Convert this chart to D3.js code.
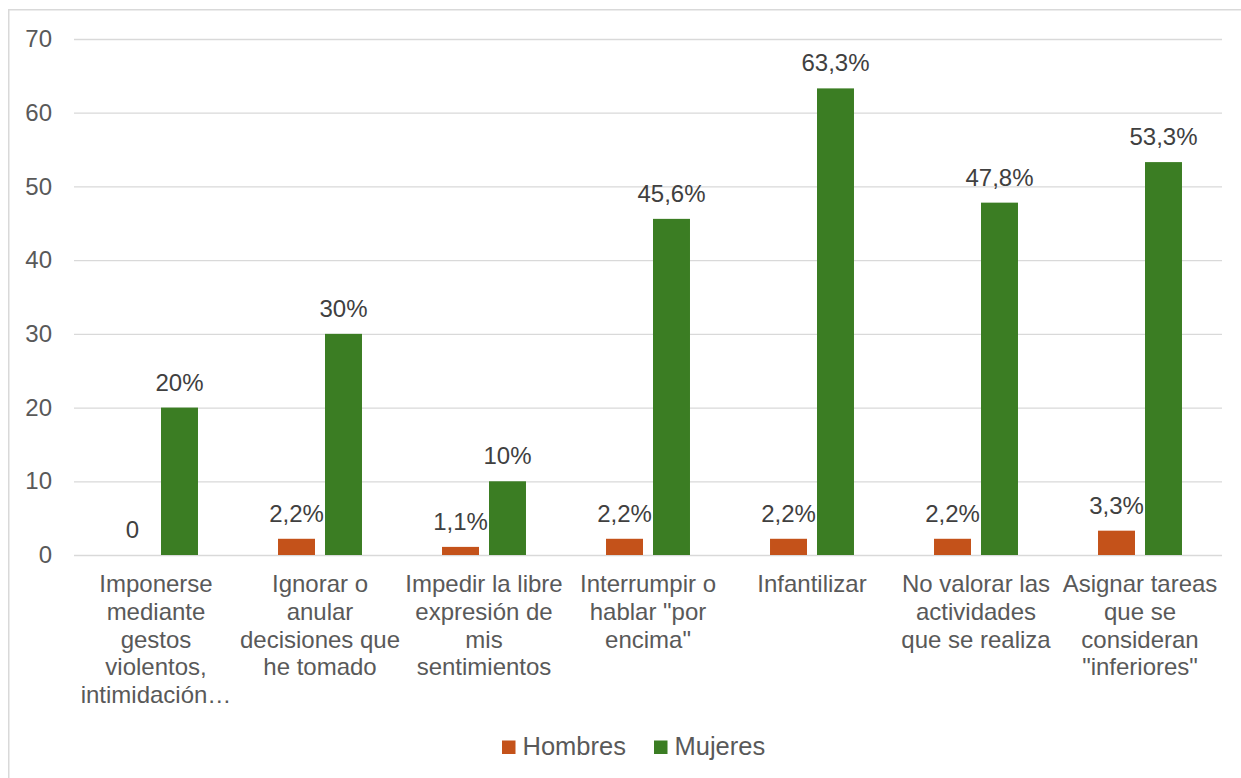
<!DOCTYPE html>
<html>
<head>
<meta charset="utf-8">
<script src="https://cdn.jsdelivr.net/npm/d3@7"></script>
<style>
  html, body { margin: 0; padding: 0; background: #fff; }
  svg { display: block; font-family: "Liberation Sans", Arial, sans-serif; }
</style>
</head>
<body>
<svg id="chart" width="1241" height="778"></svg>
<script>
const categories = [
  "Imponerse mediante gestos violentos, intimidación…",
  "Ignorar o anular decisiones que he tomado",
  "Impedir la libre expresión de mis sentimientos",
  "Interrumpir o hablar \"por encima\"",
  "Infantilizar",
  "No valorar las actividades que se realiza",
  "Asignar tareas que se consideran \"inferiores\""
];
const categoryLines = [
  ["Imponerse", "mediante", "gestos", "violentos,", "intimidación…"],
  ["Ignorar o", "anular", "decisiones que", "he tomado"],
  ["Impedir la libre", "expresión de", "mis", "sentimientos"],
  ["Interrumpir o", "hablar \"por", "encima\""],
  ["Infantilizar"],
  ["No valorar las", "actividades", "que se realiza"],
  ["Asignar tareas", "que se", "consideran", "\"inferiores\""]
];
const seriesNames = ["Hombres", "Mujeres"];
const hombres = [0, 2.2, 1.1, 2.2, 2.2, 2.2, 3.3];
const mujeres = [20, 30, 10, 45.6, 63.3, 47.8, 53.3];
const hombresLabels = ["0", "2,2%", "1,1%", "2,2%", "2,2%", "2,2%", "3,3%"];
const mujeresLabels = ["20%", "30%", "10%", "45,6%", "63,3%", "47,8%", "53,3%"];
const yTicks = [0, 10, 20, 30, 40, 50, 60, 70];

const colors = { Hombres: "#C4521A", Mujeres: "#3B7D23" };
const textColor = "#595959";
const gridColor = "#D9D9D9";

const svg = d3.select("#chart");

// outer border
svg.append("path")
  .attr("d", "M8.75,790 L8.75,9.75 L1260,9.75")
  .attr("fill", "none").attr("stroke", gridColor).attr("stroke-width", 1.5);

const plot = { left: 74, right: 1222, top: 39, bottom: 555 };

const x0 = d3.scaleBand().domain(categories).range([plot.left, plot.right]).paddingInner(0).paddingOuter(0);
const bw = x0.bandwidth();
const x1 = d3.scaleBand().domain(seriesNames).range([bw * 0.244, bw * 0.756]).paddingInner(0.213).paddingOuter(0);
const y = d3.scaleLinear().domain([0, 70]).range([plot.bottom, plot.top]);

// gridlines + y labels via axis
const yAxis = d3.axisLeft(y).tickValues(yTicks).tickSize(-(plot.right - plot.left)).tickPadding(22).tickFormat(d3.format("d"));
const gy = svg.append("g").attr("transform", `translate(${plot.left},0)`).call(yAxis);
gy.select(".domain").remove();
gy.selectAll(".tick line").attr("stroke", gridColor).attr("stroke-width", 1.3);
gy.selectAll(".tick text").attr("fill", textColor).attr("font-size", 24).attr("font-family", "Liberation Sans, Arial, sans-serif");

const data = categories.map((c, i) => ({
  cat: c,
  vals: [
    { s: "Hombres", v: hombres[i], label: hombresLabels[i] },
    { s: "Mujeres", v: mujeres[i], label: mujeresLabels[i] }
  ]
}));

const groups = svg.append("g").selectAll("g").data(data).join("g")
  .attr("transform", d => `translate(${x0(d.cat)},0)`);

groups.selectAll("rect").data(d => d.vals).join("rect")
  .attr("x", d => x1(d.s))
  .attr("width", x1.bandwidth())
  .attr("y", d => y(d.v))
  .attr("height", d => y(0) - y(d.v))
  .attr("fill", d => colors[d.s]);

groups.selectAll("text.dl").data(d => d.vals).join("text")
  .attr("class", "dl")
  .attr("x", d => x1(d.s) + x1.bandwidth() / 2)
  .attr("y", d => y(d.v) - 17)
  .attr("text-anchor", "middle")
  .attr("font-size", 24)
  .attr("fill", "#404040")
  .text(d => d.label);

// category labels
const catG = svg.append("g").selectAll("text").data(categories).join("text")
  .attr("x", d => x0(d) + bw / 2)
  .attr("y", 592)
  .attr("text-anchor", "middle")
  .attr("font-size", 24)
  .attr("fill", textColor);
catG.each(function(d, i) {
  d3.select(this).selectAll("tspan").data(categoryLines[i]).join("tspan")
    .attr("x", x0(d) + bw / 2)
    .attr("dy", (t, j) => j === 0 ? 0 : 27.8)
    .text(t => t);
});

// legend
const legend = svg.append("g");
const legendItems = [
  { s: "Hombres", x: 502 },
  { s: "Mujeres", x: 654 }
];
legendItems.forEach(it => {
  legend.append("rect").attr("x", it.x).attr("y", 740.5).attr("width", 13.5).attr("height", 13.5).attr("fill", colors[it.s]);
  legend.append("text").attr("x", it.x + 20.5).attr("y", 755).attr("font-size", 25.5).attr("fill", textColor).text(it.s);
});
</script>
</body>
</html>
